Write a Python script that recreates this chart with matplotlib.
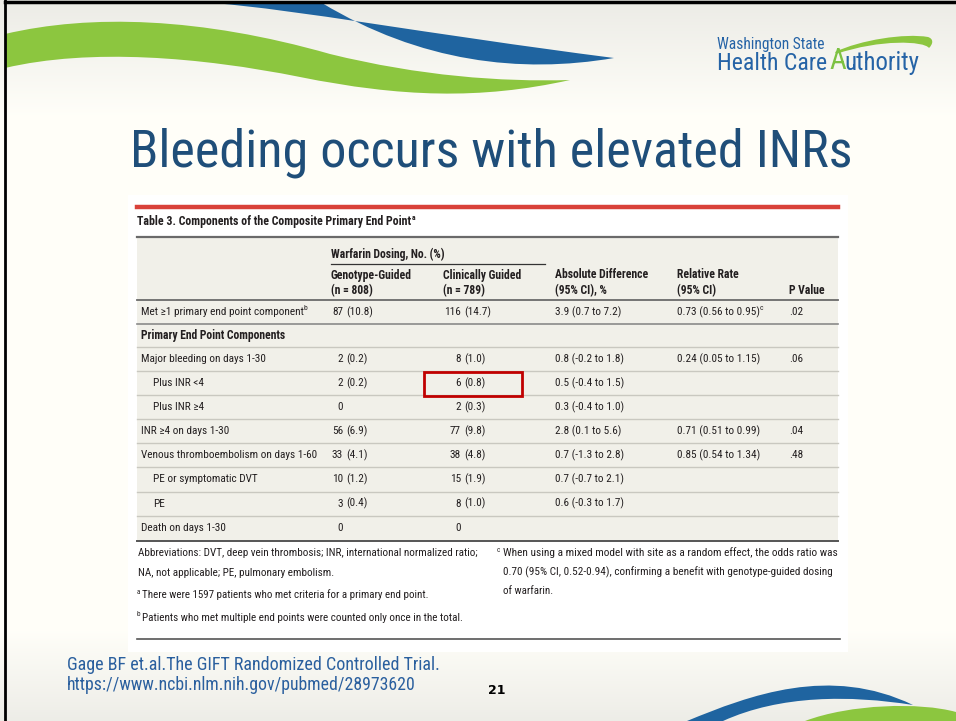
import matplotlib
matplotlib.use("Agg")
import matplotlib.pyplot as plt
import numpy as np
from matplotlib import font_manager
from matplotlib.patches import Rectangle, PathPatch
from matplotlib.path import Path

# table contents
labels = ["Met \u22651 primary end point component", "Major bleeding on days 1-30", "Plus INR <4",
          "Plus INR \u22654", "INR \u22654 on days 1-30", "Venous thromboembolism on days 1-60",
          "PE or symptomatic DVT", "PE", "Death on days 1-30"]
indent = [0, 0, 1, 1, 0, 0, 1, 1, 0]
geno_n = [87, 2, 2, 0, 56, 33, 10, 3, 0]
geno_pct = [10.8, 0.2, 0.2, None, 6.9, 4.1, 1.2, 0.4, None]
clin_n = [116, 8, 6, 2, 77, 38, 15, 8, 0]
clin_pct = [14.7, 1.0, 0.8, 0.3, 9.8, 4.8, 1.9, 1.0, None]
abs_diff = ["3.9 (0.7 to 7.2)", "0.8 (-0.2 to 1.8)", "0.5 (-0.4 to 1.5)", "0.3 (-0.4 to 1.0)",
            "2.8 (0.1 to 5.6)", "0.7 (-1.3 to 2.8)", "0.7 (-0.7 to 2.1)", "0.6 (-0.3 to 1.7)", ""]
rel_rate = ["0.73 (0.56 to 0.95)", "0.24 (0.05 to 1.15)", "", "", "0.71 (0.51 to 0.99)",
            "0.85 (0.54 to 1.34)", "", "", ""]
p_values = [".02", ".06", "", "", ".04", ".48", "", "", ""]

footnotes_left = ["Abbreviations: DVT, deep vein thrombosis; INR, international normalized ratio;",
                  "NA, not applicable; PE, pulmonary embolism."]
footnote_a = "There were 1597 patients who met criteria for a primary end point."
footnote_b = "Patients who met multiple end points were counted only once in the total."
footnote_c = ["When using a mixed model with site as a random effect, the odds ratio was",
              "0.70 (95% CI, 0.52-0.94), confirming a benefit with genotype-guided dosing",
              "of warfarin."]

W, H = 956, 721
BLUE = "#1f64a0"
GREEN = "#8cc63f"


def pick_font(names, fallback="DejaVu Sans"):
    for name in names:
        try:
            font_manager.findfont(font_manager.FontProperties(family=name), fallback_to_default=False)
            return name
        except ValueError:
            continue
    return fallback


NARROW = pick_font(["Liberation Sans Narrow", "Roboto Condensed", "Open Sans Condensed"])

fig = plt.figure(figsize=(W / 100, H / 100), dpi=100)
ax = fig.add_axes([0, 0, 1, 1])
ax.set_xlim(0, W)
ax.set_ylim(H, 0)
ax.axis("off")
renderer = fig.canvas.get_renderer()


def fit_width(t, width):
    bb = t.get_window_extent(renderer)
    t.set_fontsize(t.get_fontsize() * width / bb.width)
    return t


def right_edge(t):
    bb = t.get_window_extent(renderer)
    return ax.transData.inverted().transform((bb.x1, bb.y0))[0]


# slide background: soft gradient top and bottom
ys = np.arange(H)
shade = np.ones(H)
shade[:115] = 0.925 + 0.075 * (ys[:115] / 115.0)
shade[630:] = 1.0 - 0.07 * ((ys[630:] - 630) / 91.0)
grad = np.stack([shade, shade * 0.998, shade * 0.975], axis=1)[:, None, :]
ax.imshow(np.clip(grad, 0, 1), extent=(0, W, H, 0), aspect="auto", zorder=0)


def band(verts, codes, color):
    ax.add_patch(PathPatch(Path(verts, codes), facecolor=color, edgecolor="none", zorder=1))


M, C, L, Z = Path.MOVETO, Path.CURVE4, Path.LINETO, Path.CLOSEPOLY
# top-left waves
band([(5, 34), (90, 14), (200, 17), (330, 54), (420, 76), (500, 82), (570, 80),
      (480, 100), (400, 97), (300, 77), (200, 57), (90, 48), (5, 68), (5, 68)],
     [M, C, C, C, C, C, C, C, C, C, C, C, C, Z], GREEN)
band([(213, 3), (300, 10), (420, 33), (614, 58), (520, 74), (420, 62), (322, 3), (322, 3)],
     [M, C, C, C, C, C, C, Z], BLUE)
# bottom-right waves
band([(687, 721), (750, 695), (830, 665), (913, 705), (850, 695), (780, 695), (723, 721), (723, 721)],
     [M, C, C, C, C, C, C, Z], BLUE)
band([(805, 721), (850, 704), (920, 702), (956, 712), (956, 721), (805, 721)],
     [M, C, C, C, L, Z], GREEN)

# frame lines
ax.plot([5, W], [2, 2], color="black", lw=2.5, zorder=5)
ax.plot([5, 5], [0, H], color="black", lw=2, zorder=5)

# logo
fit_width(ax.text(717, 44, "Washington State", fontsize=8, family=NARROW, color="#2563a6",
                  va="center"), 108)
t1 = ax.text(717, 63, "Health Care", fontsize=17, family=NARROW, color="#2563a6", va="center")
fit_width(t1, 110)
xa = right_edge(t1) + 2
t2 = ax.text(xa, 61, "A", fontsize=21, family=NARROW, color="#7dc142", va="center")
xu = right_edge(t2) - 1
t3 = ax.text(xu, 63, "uthority", fontsize=17, family=NARROW, color="#2563a6", va="center")
fit_width(t3, 920 - xu)
band([(xa + 6, 52), (860, 40), (905, 33), (928, 37), (934, 39), (933, 44), (929, 48),
      (924, 41), (880, 39), (xa + 7, 54), (xa + 7, 54)],
     [M, C, C, C, C, C, C, C, C, C, Z], "#8cc63f")

# slide title
tt = ax.text(491, 153, "Bleeding occurs with elevated INRs", fontsize=38, family=NARROW,
             color="#1f4e79", ha="center", va="center")
fit_width(tt, 722)

# white panel for the table
ax.add_patch(Rectangle((128, 195), 720, 457, facecolor="white", edgecolor="none", zorder=2))
ax.add_patch(Rectangle((137, 238), 701, 303, facecolor="#f1f0e9", edgecolor="none", zorder=2))
ax.plot([137, 838], [207, 207], color="#d9413a", lw=3.2, zorder=3)
ax.plot([137, 838], [237, 237], color="#6a6a6a", lw=1.6, zorder=3)

tk = dict(family=NARROW, color="#231f20", zorder=4, va="center")
tbl = ax.text(137, 222, "Table 3. Components of the Composite Primary End Point", fontsize=9,
              fontweight="bold", **tk)
fit_width(tbl, 273)
ax.text(right_edge(tbl) + 1, 217, "a", fontsize=5.5, fontweight="bold", **tk)

hk = dict(fontsize=8.4, fontweight="bold", **tk)
ax.text(331, 254, "Warfarin Dosing, No. (%)", **hk)
ax.plot([331, 545], [264, 264], color="#333333", lw=0.9, zorder=3)
ax.text(331, 275, "Genotype-Guided", **hk)
ax.text(331, 291, "(n = 808)", **hk)
ax.text(443, 275, "Clinically Guided", **hk)
ax.text(443, 291, "(n = 789)", **hk)
ax.text(555, 275, "Absolute Difference", **hk)
ax.text(555, 291, "(95% CI), %", **hk)
ax.text(677, 275, "Relative Rate", **hk)
ax.text(677, 291, "(95% CI)", **hk)
ax.text(789, 291, "P Value", **hk)
ax.plot([137, 838], [300, 300], color="#6a6a6a", lw=1.3, zorder=3)

bk = dict(fontsize=8.1, **tk)
row_y = [312] + [359 + 24.1 * i for i in range(8)]
for i, lab in enumerate(labels):
    y = row_y[i]
    t = ax.text(141 + 12 * indent[i], y, lab, **bk)
    if i == 0:
        ax.text(right_edge(t), y - 4, "b", fontsize=5.5, **tk)
    ax.text(343, y, str(geno_n[i]), ha="right", **bk)
    if geno_pct[i] is not None:
        ax.text(346, y, f"({geno_pct[i]:.1f})", **bk)
    ax.text(461, y, str(clin_n[i]), ha="right", **bk)
    if clin_pct[i] is not None:
        ax.text(464, y, f"({clin_pct[i]:.1f})", **bk)
    ax.text(555, y, abs_diff[i], **bk)
    t = ax.text(677, y, rel_rate[i], **bk)
    if i == 0:
        ax.text(right_edge(t), y - 4, "c", fontsize=5.5, **tk)
    ax.text(789, y, p_values[i], **bk)

ax.plot([137, 838], [324, 324], color="#8a8a8a", lw=1.2, zorder=3)
ax.text(141, 336, "Primary End Point Components", fontsize=8.4, fontweight="bold", **tk)
for yl in [347] + [371 + 24.1 * i for i in range(7)]:
    ax.plot([137, 838], [yl, yl], color="#c9c8c0", lw=1.0, zorder=3)
ax.plot([137, 838], [541, 541], color="#555555", lw=1.4, zorder=3)

# red highlight box around "6 (0.8)"
ax.add_patch(Rectangle((424, 372), 98, 24, facecolor="none", edgecolor="#c00000", lw=2, zorder=5))

# footnotes
fk = dict(fontsize=7.6, **tk)
for j, line in enumerate(footnotes_left):
    fit_width(ax.text(138, 553 + 20 * j, line, **fk), 335 if j == 0 else 193)
ax.text(137, 592, "a", fontsize=5, **tk)
fit_width(ax.text(142, 595, footnote_a, **fk), 283)
ax.text(137, 615, "b", fontsize=5, **tk)
fit_width(ax.text(142, 618, footnote_b, **fk), 317)
ax.text(497, 550, "c", fontsize=5, **tk)
for j, (line, wd) in enumerate(zip(footnote_c, [334, 328, 50])):
    fit_width(ax.text(503, 553 + 19 * j, line, **fk), wd)
ax.plot([137, 840], [639, 639], color="#555555", lw=1.2, zorder=3)

# citation and slide number
ck = dict(family=NARROW, color="#2a5f9e", va="center", zorder=4)
fit_width(ax.text(67, 665, "Gage BF et.al.The GIFT Randomized Controlled Trial.", fontsize=11, **ck), 373)
fit_width(ax.text(67, 685, "https://www.ncbi.nlm.nih.gov/pubmed/28973620", fontsize=11, **ck), 350)
ax.text(488, 690, "21", fontsize=9, fontweight="bold", color="black", va="center", zorder=4)

fig.savefig("out.png", dpi=100)
